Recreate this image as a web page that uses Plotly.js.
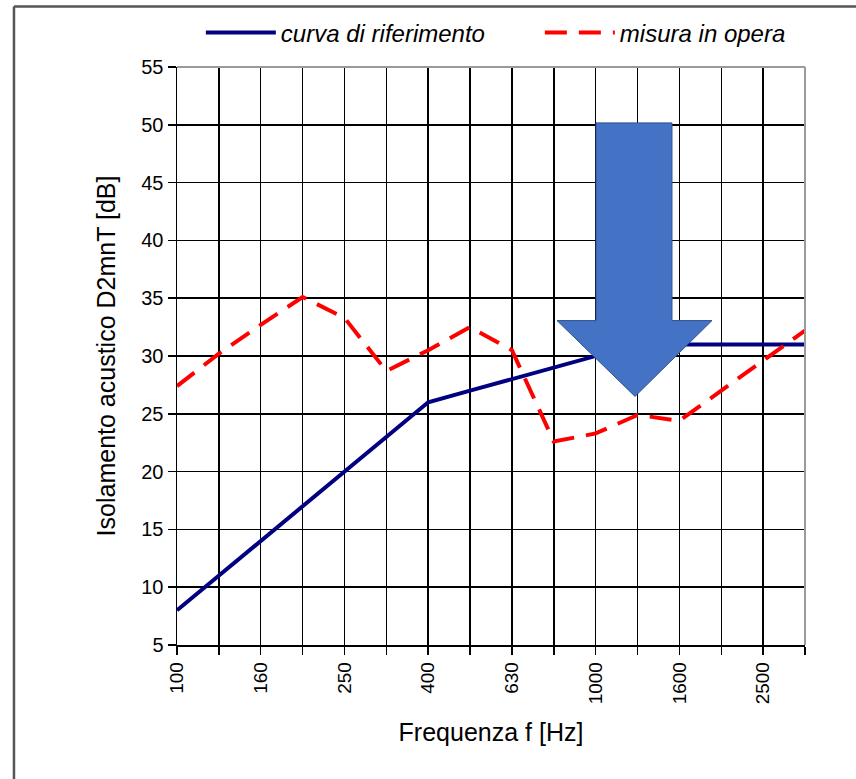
<!DOCTYPE html>
<html>
<head>
<meta charset="utf-8">
<script src="https://cdn.plot.ly/plotly-3.0.1.min.js"></script>
<style>html,body{margin:0;padding:0;background:#fff;}#chart{width:856px;height:779px;}</style>
</head>
<body>
<div id="chart"></div>
<script>
// Frequency bands (1/3 octave), Hz
const frequencies = ['100','125','160','200','250','315','400','500','630','800','1000','1250','1600','2000','2500','3150'];
// Tick labels shown (every other band)
const tickLabels = ['100','','160','','250','','400','','630','','1000','','1600','','2500',''];
// Reference curve (shifted), dB
const referenceCurve = [8,11,14,17,20,23,26,27,28,29,30,31,31,31,31,31];
// Measured in situ, dB
const measured = [27.4,30.2,32.7,35.1,33.3,28.7,30.5,32.5,30.5,22.6,23.3,24.9,24.4,27.0,29.7,32.2];
const yTicks = [5,10,15,20,25,30,35,40,45,50,55];

const font = 'Arial, "Liberation Sans", Helvetica, sans-serif';

const traces = [
  {
    x: frequencies, y: referenceCurve, type: 'scatter', mode: 'lines',
    name: 'curva di riferimento', legendwidth: 254,
    line: {color: '#000080', width: 4}
  },
  {
    x: frequencies, y: measured, type: 'scatter', mode: 'lines',
    name: 'misura in opera',
    line: {color: '#FF0000', width: 4, dash: '22px,12px'}
  }
];

const layout = {
  width: 856, height: 779,
  margin: {l: 177, r: 51, t: 66, b: 134},
  paper_bgcolor: '#ffffff', plot_bgcolor: '#ffffff',
  font: {family: font, color: '#000', size: 20},
  showlegend: true,
  legend: {
    orientation: 'h', x: 0.038, xanchor: 'left', y: 1.057, yanchor: 'middle',
    font: {family: font, size: 24, style: 'italic', color: '#000'},
    bgcolor: 'rgba(0,0,0,0)', itemwidth: 70, tracegroupgap: 0
  },
  xaxis: {
    type: 'category', range: [0, frequencies.length - 1],
    tickmode: 'array', tickvals: frequencies, ticktext: tickLabels,
    tickangle: -90, ticks: 'outside', ticklen: 8, tickwidth: 1.5, tickcolor: '#000',
    tickfont: {family: font, size: 19, color: '#000'},
    showgrid: true, gridcolor: '#000', gridwidth: 1.5,
    showline: true, linecolor: '#000', linewidth: 1.5,
    zeroline: false, automargin: false,
    title: {text: 'Frequenza f [Hz]', font: {family: font, size: 25, color: '#000'}, standoff: 20}
  },
  yaxis: {
    range: [5, 55], tickmode: 'array', tickvals: yTicks,
    ticks: 'outside', ticklen: 8, tickwidth: 1.5, tickcolor: '#000',
    tickfont: {family: font, size: 20, color: '#000'},
    showgrid: true, gridcolor: '#000', gridwidth: 1.5,
    showline: true, linecolor: '#000', linewidth: 1.5,
    zeroline: false, automargin: false,
    title: {text: 'Isolamento acustico D2mnT [dB]', font: {family: font, size: 25, color: '#000'}, standoff: 18}
  },
  shapes: [
    // outer frame (left and top)
    {type: 'line', xref: 'paper', yref: 'paper', x0: -0.2596, x1: -0.2596, y0: 1.1045, y1: -0.232,
     line: {color: '#555', width: 2.5}},
    {type: 'line', xref: 'paper', yref: 'paper', x0: -0.2596, x1: 1.082, y0: 1.1045, y1: 1.1045,
     line: {color: '#555', width: 2.5}},
    // plot area top/right border (grey)
    {type: 'line', xref: 'paper', yref: 'paper', x0: 0, x1: 1, y0: 1, y1: 1, layer: 'above',
     line: {color: '#9a9a9a', width: 2}},
    {type: 'line', xref: 'paper', yref: 'paper', x0: 1, x1: 1, y0: 0, y1: 1, layer: 'above',
     line: {color: '#9a9a9a', width: 2}},
    // blue down arrow
    {type: 'path', xref: 'paper', yref: 'paper', layer: 'above',
     path: 'M 0.6672 0.9033 L 0.7882 0.9033 L 0.7882 0.5613 L 0.8519 0.5613 L 0.7293 0.4301 L 0.6051 0.5613 L 0.6672 0.5613 Z',
     fillcolor: '#4472C4', line: {color: '#2F528F', width: 1}}
  ]
};

Plotly.newPlot('chart', traces, layout, {staticPlot: true, displayModeBar: false});
</script>
</body>
</html>
